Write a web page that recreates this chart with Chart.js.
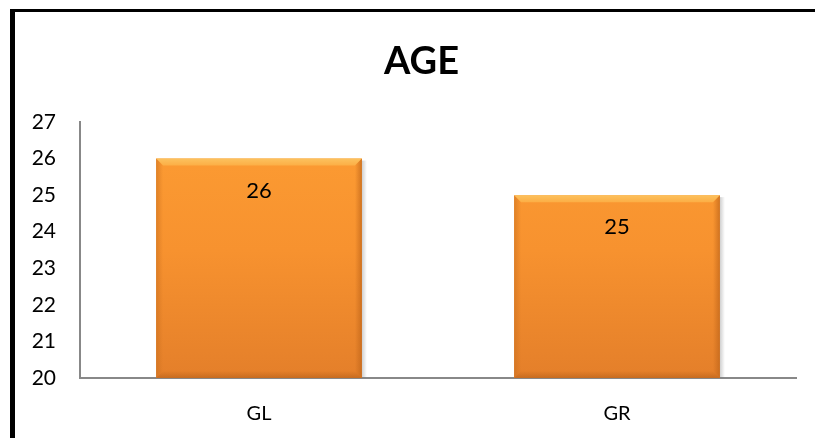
<!DOCTYPE html>
<html>
<head>
<meta charset="utf-8">
<script src="https://cdn.jsdelivr.net/npm/chart.js@4.4.0/dist/chart.umd.min.js"></script>
<style>
  html, body { margin: 0; padding: 0; background: #fff; }
  #wrap { position: relative; width: 815px; height: 438px; overflow: hidden; }
  #frame { position: absolute; left: 10px; top: 9px; width: 900px; height: 500px;
           border-left: 5px solid #000; border-top: 3px solid #000; pointer-events: none; }
  canvas { position: absolute; left: 0; top: 0; }
</style>
</head>
<body>
<div id="wrap">
  <canvas id="age-chart" width="815" height="438"></canvas>
  <div id="frame"></div>
</div>
<script>
const categories = ["GL", "GR"];
const ages = [26, 25];
const yTicks = [20, 21, 22, 23, 24, 25, 26, 27];
const chartTitle = "AGE";

const FONT = "Lato, 'Open Sans', sans-serif";

// title drawn a little right of centre, above the plot
const titlePlugin = {
    id: "ageTitle",
    afterDraw(chart) {
        const ctx = chart.ctx;
        ctx.save();
        ctx.fillStyle = "#000";
        ctx.font = "bold 38px " + FONT;
        ctx.textAlign = "center";
        ctx.textBaseline = "alphabetic";
        ctx.fillText(chartTitle, chart.width / 2 + 14, 74);
        ctx.restore();
    }
};

// bevelled look for each bar + value label inside the top of the bar
const bevelPlugin = {
    id: "bevel",
    afterDatasetsDraw(chart) {
        const ctx = chart.ctx;
        const meta = chart.getDatasetMeta(0);
        meta.data.forEach(function(bar, i) {
            const left = bar.x - bar.width / 2;
            const right = bar.x + bar.width / 2;
            const top = bar.y;
            const bottom = chart.chartArea.bottom;
            const b = 7;
            ctx.save();
            // top bevel
            let g = ctx.createLinearGradient(0, top, 0, top + b);
            g.addColorStop(0, "#fcc25e");
            g.addColorStop(1, "#fcae45");
            ctx.fillStyle = g;
            ctx.beginPath();
            ctx.moveTo(left, top);
            ctx.lineTo(right, top);
            ctx.lineTo(right - b, top + b);
            ctx.lineTo(left + b, top + b);
            ctx.closePath();
            ctx.fill();
            // left bevel
            g = ctx.createLinearGradient(left, 0, left + b, 0);
            g.addColorStop(0, "rgba(200,110,30,0.55)");
            g.addColorStop(1, "rgba(200,110,30,0)");
            ctx.fillStyle = g;
            ctx.beginPath();
            ctx.moveTo(left, top);
            ctx.lineTo(left + b, top + b);
            ctx.lineTo(left + b, bottom - b);
            ctx.lineTo(left, bottom);
            ctx.closePath();
            ctx.fill();
            // right bevel
            g = ctx.createLinearGradient(right, 0, right - b, 0);
            g.addColorStop(0, "rgba(190,100,25,0.7)");
            g.addColorStop(1, "rgba(190,100,25,0)");
            ctx.fillStyle = g;
            ctx.beginPath();
            ctx.moveTo(right, top);
            ctx.lineTo(right - b, top + b);
            ctx.lineTo(right - b, bottom - b);
            ctx.lineTo(right, bottom);
            ctx.closePath();
            ctx.fill();
            // bottom bevel
            g = ctx.createLinearGradient(0, bottom, 0, bottom - b);
            g.addColorStop(0, "rgba(180,95,25,0.6)");
            g.addColorStop(1, "rgba(180,95,25,0)");
            ctx.fillStyle = g;
            ctx.beginPath();
            ctx.moveTo(left, bottom);
            ctx.lineTo(right, bottom);
            ctx.lineTo(right - b, bottom - b);
            ctx.lineTo(left + b, bottom - b);
            ctx.closePath();
            ctx.fill();
            // soft shadow on right side
            g = ctx.createLinearGradient(right, 0, right + 5, 0);
            g.addColorStop(0, "rgba(120,120,120,0.35)");
            g.addColorStop(1, "rgba(120,120,120,0)");
            ctx.fillStyle = g;
            ctx.fillRect(right, top + 2, 5, bottom - top - 2);

            // value label
            ctx.fillStyle = "#000";
            ctx.font = "22px " + FONT;
            ctx.textAlign = "center";
            ctx.textBaseline = "middle";
            ctx.fillText(String(ages[i]), bar.x, top + 32);
            ctx.restore();
        });
    }
};

const ctx = document.getElementById("age-chart").getContext("2d");
new Chart(ctx, {
    type: "bar",
    data: {
        labels: categories,
        datasets: [{
            data: ages,
            backgroundColor: function(c) {
                const area = c.chart.chartArea;
                if (!area) return "#f7922f";
                const g = c.chart.ctx.createLinearGradient(0, area.top, 0, area.bottom);
                g.addColorStop(0, "#fd9d33");
                g.addColorStop(0.5, "#f7922f");
                g.addColorStop(1, "#e47f2a");
                return g;
            },
            borderWidth: 0,
            barPercentage: 0.575,
            categoryPercentage: 1.0
        }]
    },
    options: {
        responsive: false,
        animation: false,
        layout: { padding: { left: 0, right: 19, top: 122, bottom: 0 } },
        plugins: {
            legend: { display: false },
            tooltip: { enabled: false },
            title: { display: false }
        },
        scales: {
            x: {
                grid: { display: false, drawTicks: false },
                border: { display: true, color: "#888", width: 2 },
                ticks: { color: "#000", font: { family: FONT, size: 20 }, padding: 24 },
                afterFit: function(scale) { scale.height = 60; }
            },
            y: {
                min: yTicks[0],
                max: yTicks[yTicks.length - 1],
                grid: { display: false, drawTicks: false },
                border: { display: true, color: "#888", width: 2 },
                afterBuildTicks: function(scale) {
                    scale.ticks = yTicks.map(function(v) { return { value: v }; });
                },
                ticks: { color: "#000", font: { family: FONT, size: 21 }, padding: 24 },
                afterFit: function(scale) { scale.width = 80; }
            }
        }
    },
    plugins: [bevelPlugin, titlePlugin]
});
</script>
</body>
</html>
